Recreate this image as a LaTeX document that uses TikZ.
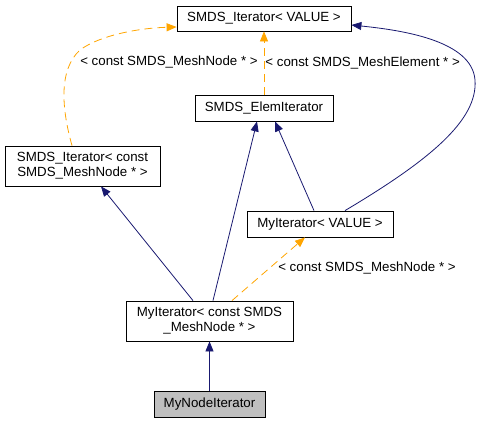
\documentclass[tikz,border=0pt]{standalone}
\usepackage{fontspec}
\setmainfont{Liberation Sans}
\usetikzlibrary{arrows.meta}
\definecolor{edgeblue}{RGB}{25,25,112}
\definecolor{edgeorange}{RGB}{255,165,0}
\definecolor{boxgray}{RGB}{191,191,191}

\begin{document}
\begin{tikzpicture}[x=1pt,y=-1pt,>={Triangle[length=10pt,width=8pt]},
  class/.style={draw,line width=0.8pt,inner sep=0pt,align=center,
    font=\fontsize{13.3}{15}\selectfont},
  inh/.style={->,draw=edgeblue,line width=0.8pt},
  tmpl/.style={->,draw=edgeorange,line width=0.8pt,dash pattern=on 8pt off 5pt},
  lbl/.style={font=\fontsize{13.3}{15}\selectfont,inner sep=1pt}]
\useasboundingbox (0,0) rectangle (482,423);
%classes
\node[class,minimum width=174pt,minimum height=25pt] (iterval) at (264,18.5) {SMDS\_Iterator< VALUE >};
\node[class,minimum width=138pt,minimum height=26pt] (elem) at (264,108) {SMDS\_ElemIterator};
\node[class,minimum width=155pt,minimum height=40pt] (iternode) at (82.5,166)
     {SMDS\_Iterator< const\\SMDS\_MeshNode * >};
\node[class,minimum width=146pt,minimum height=26pt] (myval) at (320,224) {MyIterator< VALUE >};
\node[class,minimum width=167pt,minimum height=40pt] (mynode) at (209.5,321)
     {MyIterator< const SMDS\\\_MeshNode * >};
\node[class,fill=boxgray,minimum width=111pt,minimum height=26pt] (nodeiter) at (209.5,404) {MyNodeIterator};
%template instances
\draw[tmpl] (elem) -- node[lbl,right] (lblelem) {< const SMDS\_MeshElement * >} (iterval);
\draw[tmpl] ([xshift=-10.5pt]iternode.north) .. controls (62,110) and (58,70) .. (80,50)
     .. controls (100,35) and (140,28) .. ([yshift=-8.5pt]iterval.west);
\node[lbl] (lblnode) at (169,62) {< const SMDS\_MeshNode * >};
\draw[tmpl] ([xshift=22.5pt]mynode.north) -- ([xshift=-15pt]myval.south);
\node[lbl] (lblmynode) at (367,268) {< const SMDS\_MeshNode * >};
%inheritance
\draw[inh] ([xshift=25pt]myval.north) .. controls (430,160) and (478,120) .. (475,80)
     .. controls (472,40) and (400,30) .. ([yshift=-6.5pt]iterval.east);
\draw[inh] ([xshift=-6pt]myval.north) -- ([xshift=11pt]elem.south);
\draw[inh] ([xshift=3.5pt]mynode.north) -- ([xshift=-7pt]elem.south);
\draw[inh] ([xshift=-16.5pt]mynode.north) -- ([xshift=18.5pt]iternode.south);
\draw[inh] (nodeiter) -- (mynode);
\end{tikzpicture}
\end{document}
